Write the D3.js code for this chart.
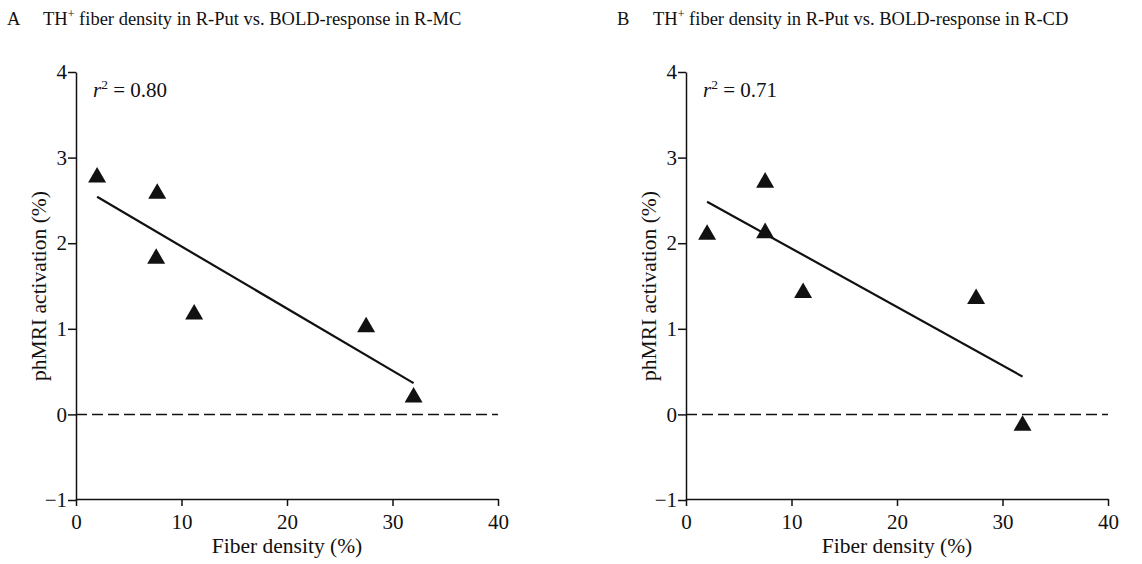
<!DOCTYPE html>
<html>
<head>
<meta charset="utf-8">
<script src="https://cdn.jsdelivr.net/npm/d3@7"></script>
<style>
  body { margin: 0; background: #fff; }
  .axis path, .axis line { stroke: #111; stroke-width: 1.5px; }
</style>
</head>
<body>
<div id="chart"></div>
<script>
// fiber density (%) per animal, and phMRI activation (%) per region
var fiberA = [2.0, 7.7, 7.6, 11.2, 27.5, 32.0],
    boldMC = [2.80, 2.61, 1.85, 1.20, 1.05, 0.23];
var fiberB = [2.0, 7.5, 7.5, 11.1, 27.5, 31.9],
    boldCD = [2.13, 2.74, 2.15, 1.45, 1.38, -0.10];

var panelLetters = ["A", "B"],
    panelTitles = ["fiber density in R-Put vs. BOLD-response in R-MC",
                   "fiber density in R-Put vs. BOLD-response in R-CD"],
    rSquared = ["0.80", "0.71"];

var xTicks = [0, 10, 20, 30, 40],
    yTicks = [-1, 0, 1, 2, 3, 4];

var serif = "'Liberation Serif', 'Times New Roman', serif";
var W = 1142, H = 564;
var svg = d3.select("#chart").append("svg")
    .attr("width", W).attr("height", H)
    .attr("font-family", serif);

// triangle centred on its bounding box
var triangle = {
  draw: function(ctx, size) {
    var s = Math.sqrt(size * 4 / Math.sqrt(3)), h = s * Math.sqrt(3) / 2;
    ctx.moveTo(0, -h / 2);
    ctx.lineTo(s / 2, h / 2);
    ctx.lineTo(-s / 2, h / 2);
    ctx.closePath();
  }
};

function drawPanel(left, xs, ys, idx) {
  var x = d3.scaleLinear().domain([0, 40]).range([left, left + 422]),
      y = d3.scaleLinear().domain([-1, 4]).range([500, 72]);

  // title
  var t = svg.append("text").attr("y", 25).attr("font-size", 18.5).attr("fill", "#111");
  t.append("tspan").attr("x", left - 69).text(panelLetters[idx]);
  t.append("tspan").attr("x", left - 33).text("TH");
  t.append("tspan").attr("dy", -7).attr("font-size", 12).text("+");
  t.append("tspan").attr("dy", 7).text(" " + panelTitles[idx]);

  var gx = svg.append("g").attr("class", "axis")
     .attr("transform", "translate(0,499)")
     .call(d3.axisBottom(x).tickValues(xTicks).tickSize(7).tickPadding(8).tickSizeOuter(0));
  var gy = svg.append("g").attr("class", "axis")
     .attr("transform", "translate(" + left + ",0)")
     .call(d3.axisLeft(y).tickValues(yTicks).tickSize(8).tickPadding(1).tickSizeOuter(0)
            .tickFormat(d3.format("d")));
  [gx, gy].forEach(function(g) {
    g.attr("font-family", serif).attr("font-size", 21);
    g.selectAll("text").attr("fill", "#111");
  });

  // zero line
  svg.append("line")
     .attr("x1", x(0)).attr("x2", x(40))
     .attr("y1", y(0)).attr("y2", y(0))
     .attr("stroke", "#111").attr("stroke-width", 1.5)
     .attr("stroke-dasharray", "11,5");

  // least squares fit over the data range
  var mx = d3.mean(xs), my = d3.mean(ys),
      sxy = d3.sum(xs, (d, i) => (d - mx) * (ys[i] - my)),
      sxx = d3.sum(xs, d => (d - mx) * (d - mx)),
      slope = sxy / sxx, icpt = my - slope * mx,
      ext = d3.extent(xs);
  svg.append("path")
     .attr("d", d3.line()(ext.map(v => [x(v), y(icpt + slope * v)])))
     .attr("stroke", "#111").attr("stroke-width", 2.2).attr("fill", "none");

  svg.selectAll(null).data(xs).enter().append("path")
     .attr("transform", (d, i) => "translate(" + x(d) + "," + y(ys[i]) + ")")
     .attr("d", d3.symbol(triangle, 140))
     .attr("fill", "#111");

  // r squared
  var r = svg.append("text").attr("x", left + 17).attr("y", 97)
     .attr("font-size", 21).attr("fill", "#111");
  r.append("tspan").attr("font-style", "italic").text("r");
  r.append("tspan").attr("dy", -8).attr("font-size", 13.5).text("2");
  r.append("tspan").attr("dy", 8).text(" = " + rSquared[idx]);

  // axis titles
  svg.append("text")
     .attr("x", left + 211).attr("y", 553)
     .attr("text-anchor", "middle").attr("font-size", 21.5).attr("fill", "#111")
     .text("Fiber density (%)");
  svg.append("text")
     .attr("transform", "translate(" + (left - 30) + ",286) rotate(-90)")
     .attr("text-anchor", "middle").attr("font-size", 21.5).attr("fill", "#111")
     .text("phMRI activation (%)");
}

drawPanel(76, fiberA, boldMC, 0);
drawPanel(686, fiberB, boldCD, 1);
</script>
</body>
</html>
